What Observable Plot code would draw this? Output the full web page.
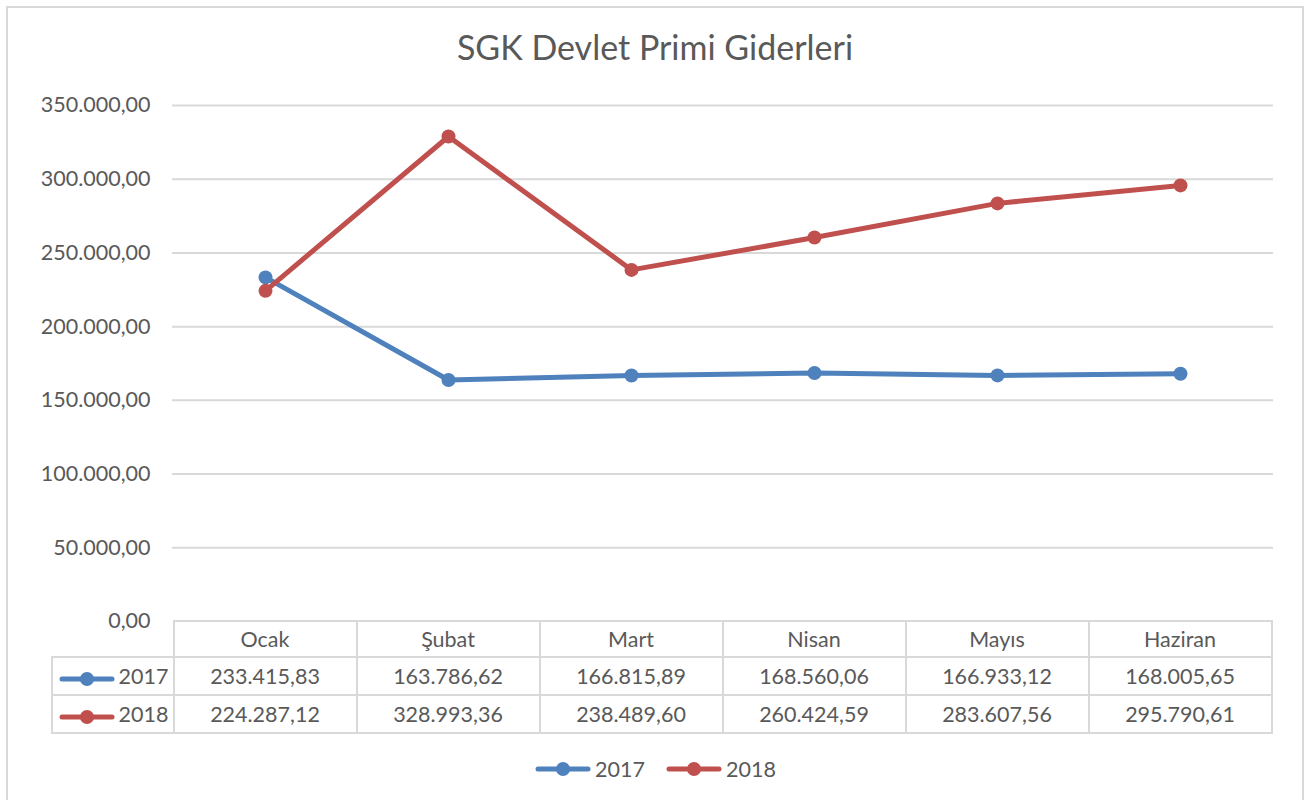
<!DOCTYPE html>
<html><head><meta charset="utf-8">
<script src="https://cdn.jsdelivr.net/npm/d3@7"></script>
<script src="https://cdn.jsdelivr.net/npm/@observablehq/plot@0.6"></script>
<style>
body{margin:0;background:#fff;}
#wrap{position:relative;width:1314px;height:800px;overflow:hidden;font-family:Lato,"Open Sans",sans-serif;color:#595959;}
#frame{position:absolute;left:6px;top:6px;width:1298px;height:900px;border:2px solid #d9d9d9;box-sizing:border-box;pointer-events:none;}
#title{position:absolute;left:6px;width:1298px;top:30px;text-align:center;font-size:34px;line-height:34px;}
#chart{position:absolute;left:0;top:0;}
#tbl{position:absolute;border-collapse:collapse;table-layout:fixed;font-size:21.5px;}
#tbl td{border:2px solid #d9d9d9;text-align:center;padding:0;vertical-align:middle;white-space:nowrap;}
#tbl td.empty{border:none;}
#tbl td.key{text-align:right;padding-right:4px;}
#legend{position:absolute;left:6px;width:1298px;top:756px;display:flex;justify-content:center;gap:20px;font-size:21.5px;line-height:26px;}
#legend span.item{display:flex;align-items:center;}
svg.k{display:inline-block;vertical-align:middle;margin-right:3px;}
</style>
</head><body>
<div id="wrap">
  <div id="title"></div>
  <div id="chart"></div>
  <table id="tbl"></table>
  <div id="legend"></div>
  <div id="frame"></div>
</div>
<script>
const title = "SGK Devlet Primi Giderleri";
const months = ["Ocak", "Şubat", "Mart", "Nisan", "Mayıs", "Haziran"];
const years = ["2017", "2018"];
const values2017 = [233415.83, 163786.62, 166815.89, 168560.06, 166933.12, 168005.65];
const values2018 = [224287.12, 328993.36, 238489.60, 260424.59, 283607.56, 295790.61];
const yTicks = [0, 50000, 100000, 150000, 200000, 250000, 300000, 350000];
const colors = ["#4F81BD", "#C0504D"];

const series = [values2017, values2018];
const loc = d3.formatLocale({decimal: ",", thousands: ".", grouping: [3], currency: ["", ""]});
const fmt = loc.format(",.2f");

document.getElementById("title").textContent = title;

const data = [];
years.forEach((yr, i) => months.forEach((m, j) => data.push({year: yr, month: m, value: series[i][j]})));

const marks = [
  Plot.gridY(yTicks.filter(d => d > 0), {stroke: "#d9d9d9", strokeOpacity: 1, strokeWidth: 2}),
  Plot.axisY(yTicks, {tickFormat: fmt, tickSize: 0, tickPadding: 22, label: null, fill: "#595959"})
];
years.forEach(yr => {
  const d = data.filter(r => r.year === yr);
  marks.push(Plot.line(d, {x: "month", y: "value", stroke: "year", strokeWidth: 5, strokeLinejoin: "round", strokeLinecap: "round"}));
  marks.push(Plot.dot(d, {x: "month", y: "value", fill: "year", r: 7}));
});

const chart = Plot.plot({
  width: 1314, height: 800,
  marginLeft: 172, marginRight: 41, marginTop: 105, marginBottom: 179,
  style: {background: "transparent", fontFamily: "Lato, 'Open Sans', sans-serif", fontSize: "21.5px", color: "#595959"},
  x: {type: "point", domain: months, padding: 0.5, axis: null},
  y: {domain: [0, 350000], axis: null},
  color: {domain: years, range: colors},
  marks
});
document.getElementById("chart").appendChild(chart);

// data table aligned to the x scale
const xs = chart.scale("x");
const step = xs.apply(months[1]) - xs.apply(months[0]);
const left0 = xs.apply(months[0]) - step / 2;
const tableLeft = 52;
const keyW = left0 - tableLeft;
const ys = chart.scale("y");
const tbl = document.getElementById("tbl");
tbl.style.left = (tableLeft - 1) + "px";
tbl.style.top = (ys.apply(0) - 1) + "px";
const cg = document.createElement("colgroup");
[keyW, ...months.map(() => step)].forEach(w => { const c = document.createElement("col"); c.style.width = w + "px"; cg.appendChild(c); });
tbl.appendChild(cg);

function keySvg(color) {
  return `<svg class="k" width="58" height="16"><line x1="4" y1="8" x2="54" y2="8" stroke="${color}" stroke-width="5" stroke-linecap="round"/><circle cx="29" cy="8" r="7" fill="${color}"/></svg>`;
}
let html = `<tr style="height:36px"><td class="empty"></td>${months.map(m => `<td>${m}</td>`).join("")}</tr>`;
years.forEach((yr, i) => {
  html += `<tr style="height:38px"><td class="key">${keySvg(colors[i])}${yr}</td>${series[i].map(v => `<td>${fmt(v)}</td>`).join("")}</tr>`;
});
tbl.insertAdjacentHTML("beforeend", html);

document.getElementById("legend").innerHTML = years.map((yr, i) => `<span class="item">${keySvg(colors[i])}${yr}</span>`).join("");
</script>
</body></html>
